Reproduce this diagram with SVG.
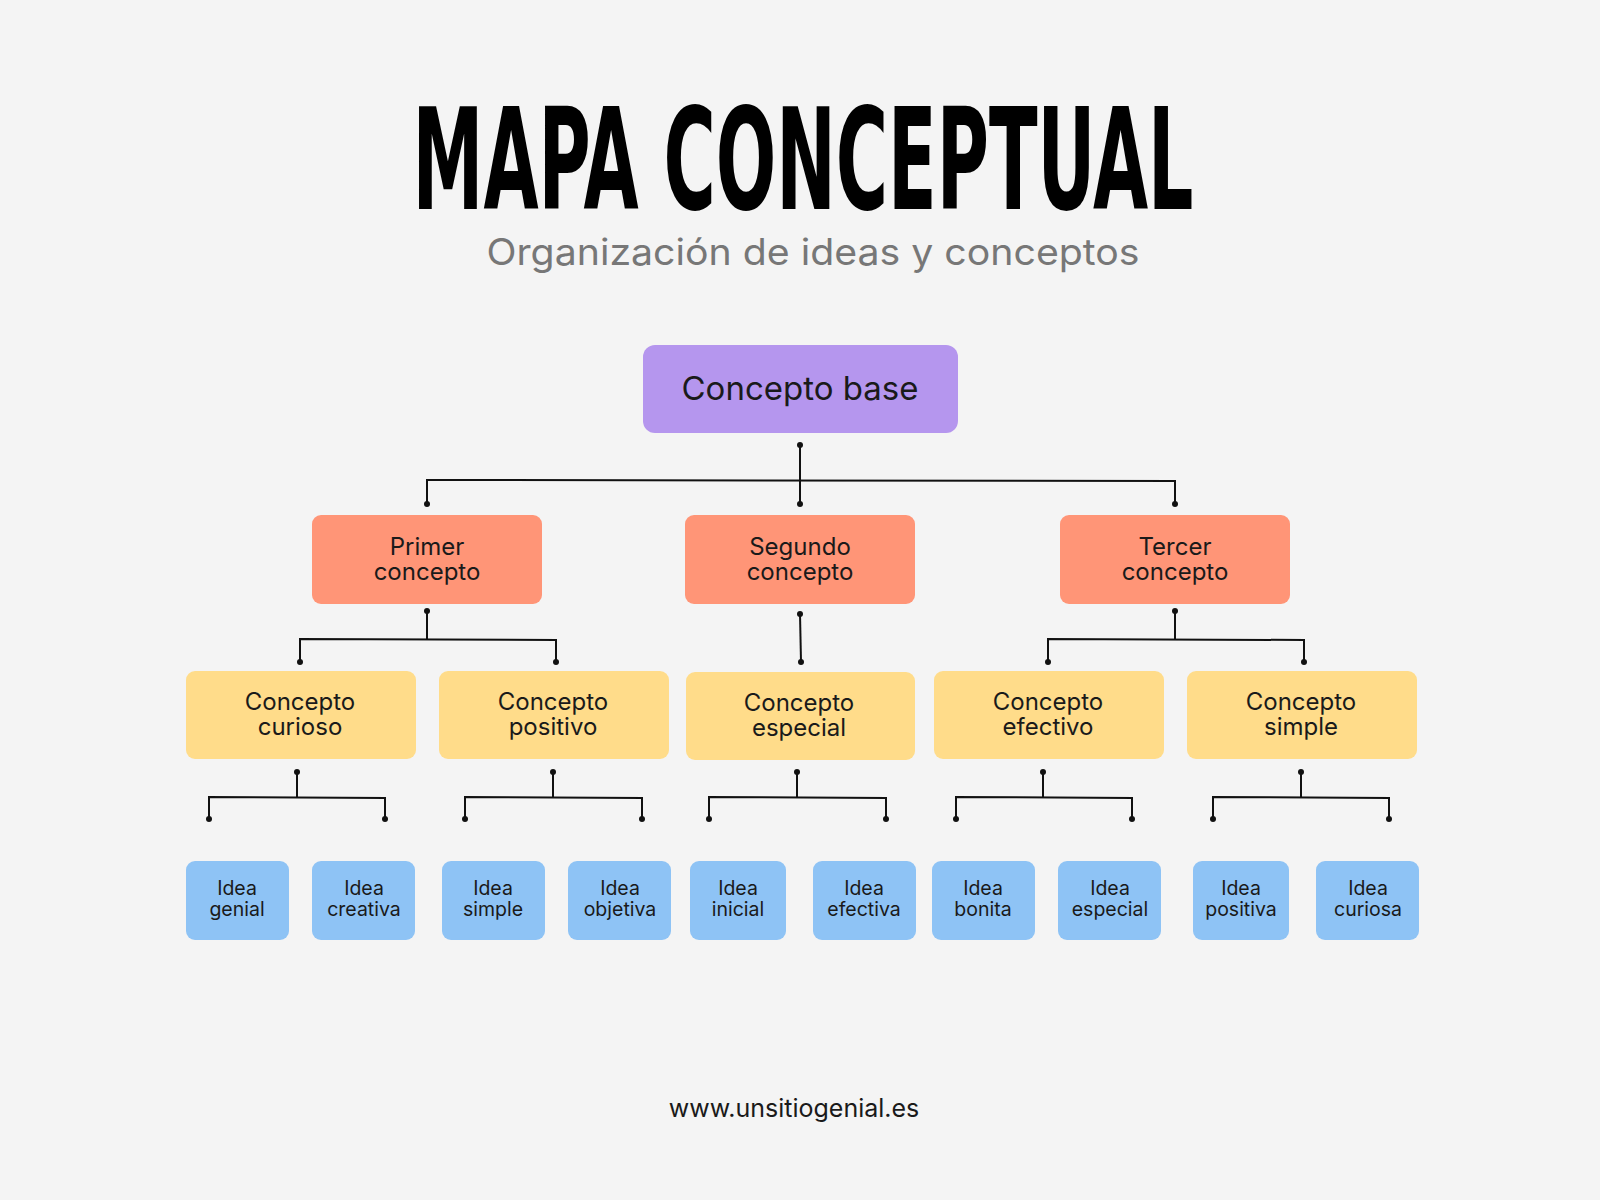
<svg xmlns="http://www.w3.org/2000/svg" width="1600" height="1200" viewBox="0 0 1600 1200">
<defs><style>
.t{font-family:Inter,"Open Sans","Liberation Sans",sans-serif;fill:#1a1a1a;text-anchor:middle}
.l2{fill:#ff9577}.l3{fill:#ffdc8a}.l4{fill:#8ec3f5}
.c line,.c polyline{stroke:#111;stroke-width:2;fill:none}
.c circle{fill:#111}
</style></defs>
<rect width="1600" height="1200" fill="#f4f4f4"/>
<text x="803" y="209" font-family="'DejaVu Sans Condensed','Liberation Sans',sans-serif" font-weight="900" font-size="140" textLength="781" lengthAdjust="spacingAndGlyphs" text-anchor="middle" fill="#000">MAPA CONCEPTUAL</text>
<text x="813" y="265" class="t" font-size="37" style="fill:#777" textLength="653" lengthAdjust="spacingAndGlyphs">Organización de ideas y conceptos</text>
<g class="c" id="connectors">
<circle cx="800" cy="445" r="3"/><line x1="800" y1="445" x2="800" y2="504"/>
<polyline points="427,504 427,480 1175,481 1175,504"/>
<circle cx="427" cy="504" r="3"/><circle cx="800" cy="504" r="3"/><circle cx="1175" cy="504" r="3"/>
<circle cx="427" cy="611" r="3"/><line x1="427" y1="611" x2="427" y2="639"/>
<polyline points="300,662 300,639 556,640 556,662"/><circle cx="300" cy="662" r="3"/><circle cx="556" cy="662" r="3"/>
<circle cx="800" cy="614" r="3"/><line x1="800" y1="614" x2="801" y2="662"/><circle cx="801" cy="662" r="3"/>
<circle cx="1175" cy="611" r="3"/><line x1="1175" y1="611" x2="1175" y2="639"/>
<polyline points="1048,662 1048,639 1304,640 1304,662"/><circle cx="1048" cy="662" r="3"/><circle cx="1304" cy="662" r="3"/>
<g>
<circle cx="297" cy="772" r="3"/><line x1="297" y1="772" x2="297" y2="797"/><polyline points="209,819 209,797 385,798 385,819"/><circle cx="209" cy="819" r="3"/><circle cx="385" cy="819" r="3"/>
<circle cx="553" cy="772" r="3"/><line x1="553" y1="772" x2="553" y2="797"/><polyline points="465,819 465,797 642,798 642,819"/><circle cx="465" cy="819" r="3"/><circle cx="642" cy="819" r="3"/>
<circle cx="797" cy="772" r="3"/><line x1="797" y1="772" x2="797" y2="797"/><polyline points="709,819 709,797 886,798 886,819"/><circle cx="709" cy="819" r="3"/><circle cx="886" cy="819" r="3"/>
<circle cx="1043" cy="772" r="3"/><line x1="1043" y1="772" x2="1043" y2="797"/><polyline points="956,819 956,797 1132,798 1132,819"/><circle cx="956" cy="819" r="3"/><circle cx="1132" cy="819" r="3"/>
<circle cx="1301" cy="772" r="3"/><line x1="1301" y1="772" x2="1301" y2="797"/><polyline points="1213,819 1213,797 1389,798 1389,819"/><circle cx="1213" cy="819" r="3"/><circle cx="1389" cy="819" r="3"/>
</g>
</g>
<g id="base"><rect x="643" y="345" width="315" height="88" rx="12" fill="#b596ee"/><text x="800" y="400" class="t" font-size="33">Concepto base</text></g>
<g id="c1"><rect class="l2" x="312" y="515" width="230" height="89" rx="9"/><text class="t" x="427" y="555" font-size="24">Primer<tspan x="427" dy="25">concepto</tspan></text></g>
<g id="c2"><rect class="l2" x="685" y="515" width="230" height="89" rx="9"/><text class="t" x="800" y="555" font-size="24">Segundo<tspan x="800" dy="25">concepto</tspan></text></g>
<g id="c3"><rect class="l2" x="1060" y="515" width="230" height="89" rx="9"/><text class="t" x="1175" y="555" font-size="24">Tercer<tspan x="1175" dy="25">concepto</tspan></text></g>
<g id="s1"><rect class="l3" x="186" y="671" width="230" height="88" rx="9"/><text class="t" x="300" y="710" font-size="24">Concepto<tspan x="300" dy="25">curioso</tspan></text></g>
<g id="s2"><rect class="l3" x="439" y="671" width="230" height="88" rx="9"/><text class="t" x="553" y="710" font-size="24">Concepto<tspan x="553" dy="25">positivo</tspan></text></g>
<g id="s3"><rect class="l3" x="686" y="672" width="229" height="88" rx="9"/><text class="t" x="799" y="711" font-size="24">Concepto<tspan x="799" dy="25">especial</tspan></text></g>
<g id="s4"><rect class="l3" x="934" y="671" width="230" height="88" rx="9"/><text class="t" x="1048" y="710" font-size="24">Concepto<tspan x="1048" dy="25">efectivo</tspan></text></g>
<g id="s5"><rect class="l3" x="1187" y="671" width="230" height="88" rx="9"/><text class="t" x="1301" y="710" font-size="24">Concepto<tspan x="1301" dy="25">simple</tspan></text></g>
<g id="i1"><rect class="l4" x="186" y="861" width="103" height="79" rx="9"/><text class="t" x="237" y="895" font-size="19.5">Idea<tspan x="237" dy="21">genial</tspan></text></g>
<g id="i2"><rect class="l4" x="312" y="861" width="103" height="79" rx="9"/><text class="t" x="364" y="895" font-size="19.5">Idea<tspan x="364" dy="21">creativa</tspan></text></g>
<g id="i3"><rect class="l4" x="442" y="861" width="103" height="79" rx="9"/><text class="t" x="493" y="895" font-size="19.5">Idea<tspan x="493" dy="21">simple</tspan></text></g>
<g id="i4"><rect class="l4" x="568" y="861" width="103" height="79" rx="9"/><text class="t" x="620" y="895" font-size="19.5">Idea<tspan x="620" dy="21">objetiva</tspan></text></g>
<g id="i5"><rect class="l4" x="690" y="861" width="96" height="79" rx="9"/><text class="t" x="738" y="895" font-size="19.5">Idea<tspan x="738" dy="21">inicial</tspan></text></g>
<g id="i6"><rect class="l4" x="813" y="861" width="103" height="79" rx="9"/><text class="t" x="864" y="895" font-size="19.5">Idea<tspan x="864" dy="21">efectiva</tspan></text></g>
<g id="i7"><rect class="l4" x="932" y="861" width="103" height="79" rx="9"/><text class="t" x="983" y="895" font-size="19.5">Idea<tspan x="983" dy="21">bonita</tspan></text></g>
<g id="i8"><rect class="l4" x="1058" y="861" width="103" height="79" rx="9"/><text class="t" x="1110" y="895" font-size="19.5">Idea<tspan x="1110" dy="21">especial</tspan></text></g>
<g id="i9"><rect class="l4" x="1193" y="861" width="96" height="79" rx="9"/><text class="t" x="1241" y="895" font-size="19.5">Idea<tspan x="1241" dy="21">positiva</tspan></text></g>
<g id="i10"><rect class="l4" x="1316" y="861" width="103" height="79" rx="9"/><text class="t" x="1368" y="895" font-size="19.5">Idea<tspan x="1368" dy="21">curiosa</tspan></text></g>
<text x="794" y="1117" class="t" font-size="25">www.unsitiogenial.es</text>
</svg>
